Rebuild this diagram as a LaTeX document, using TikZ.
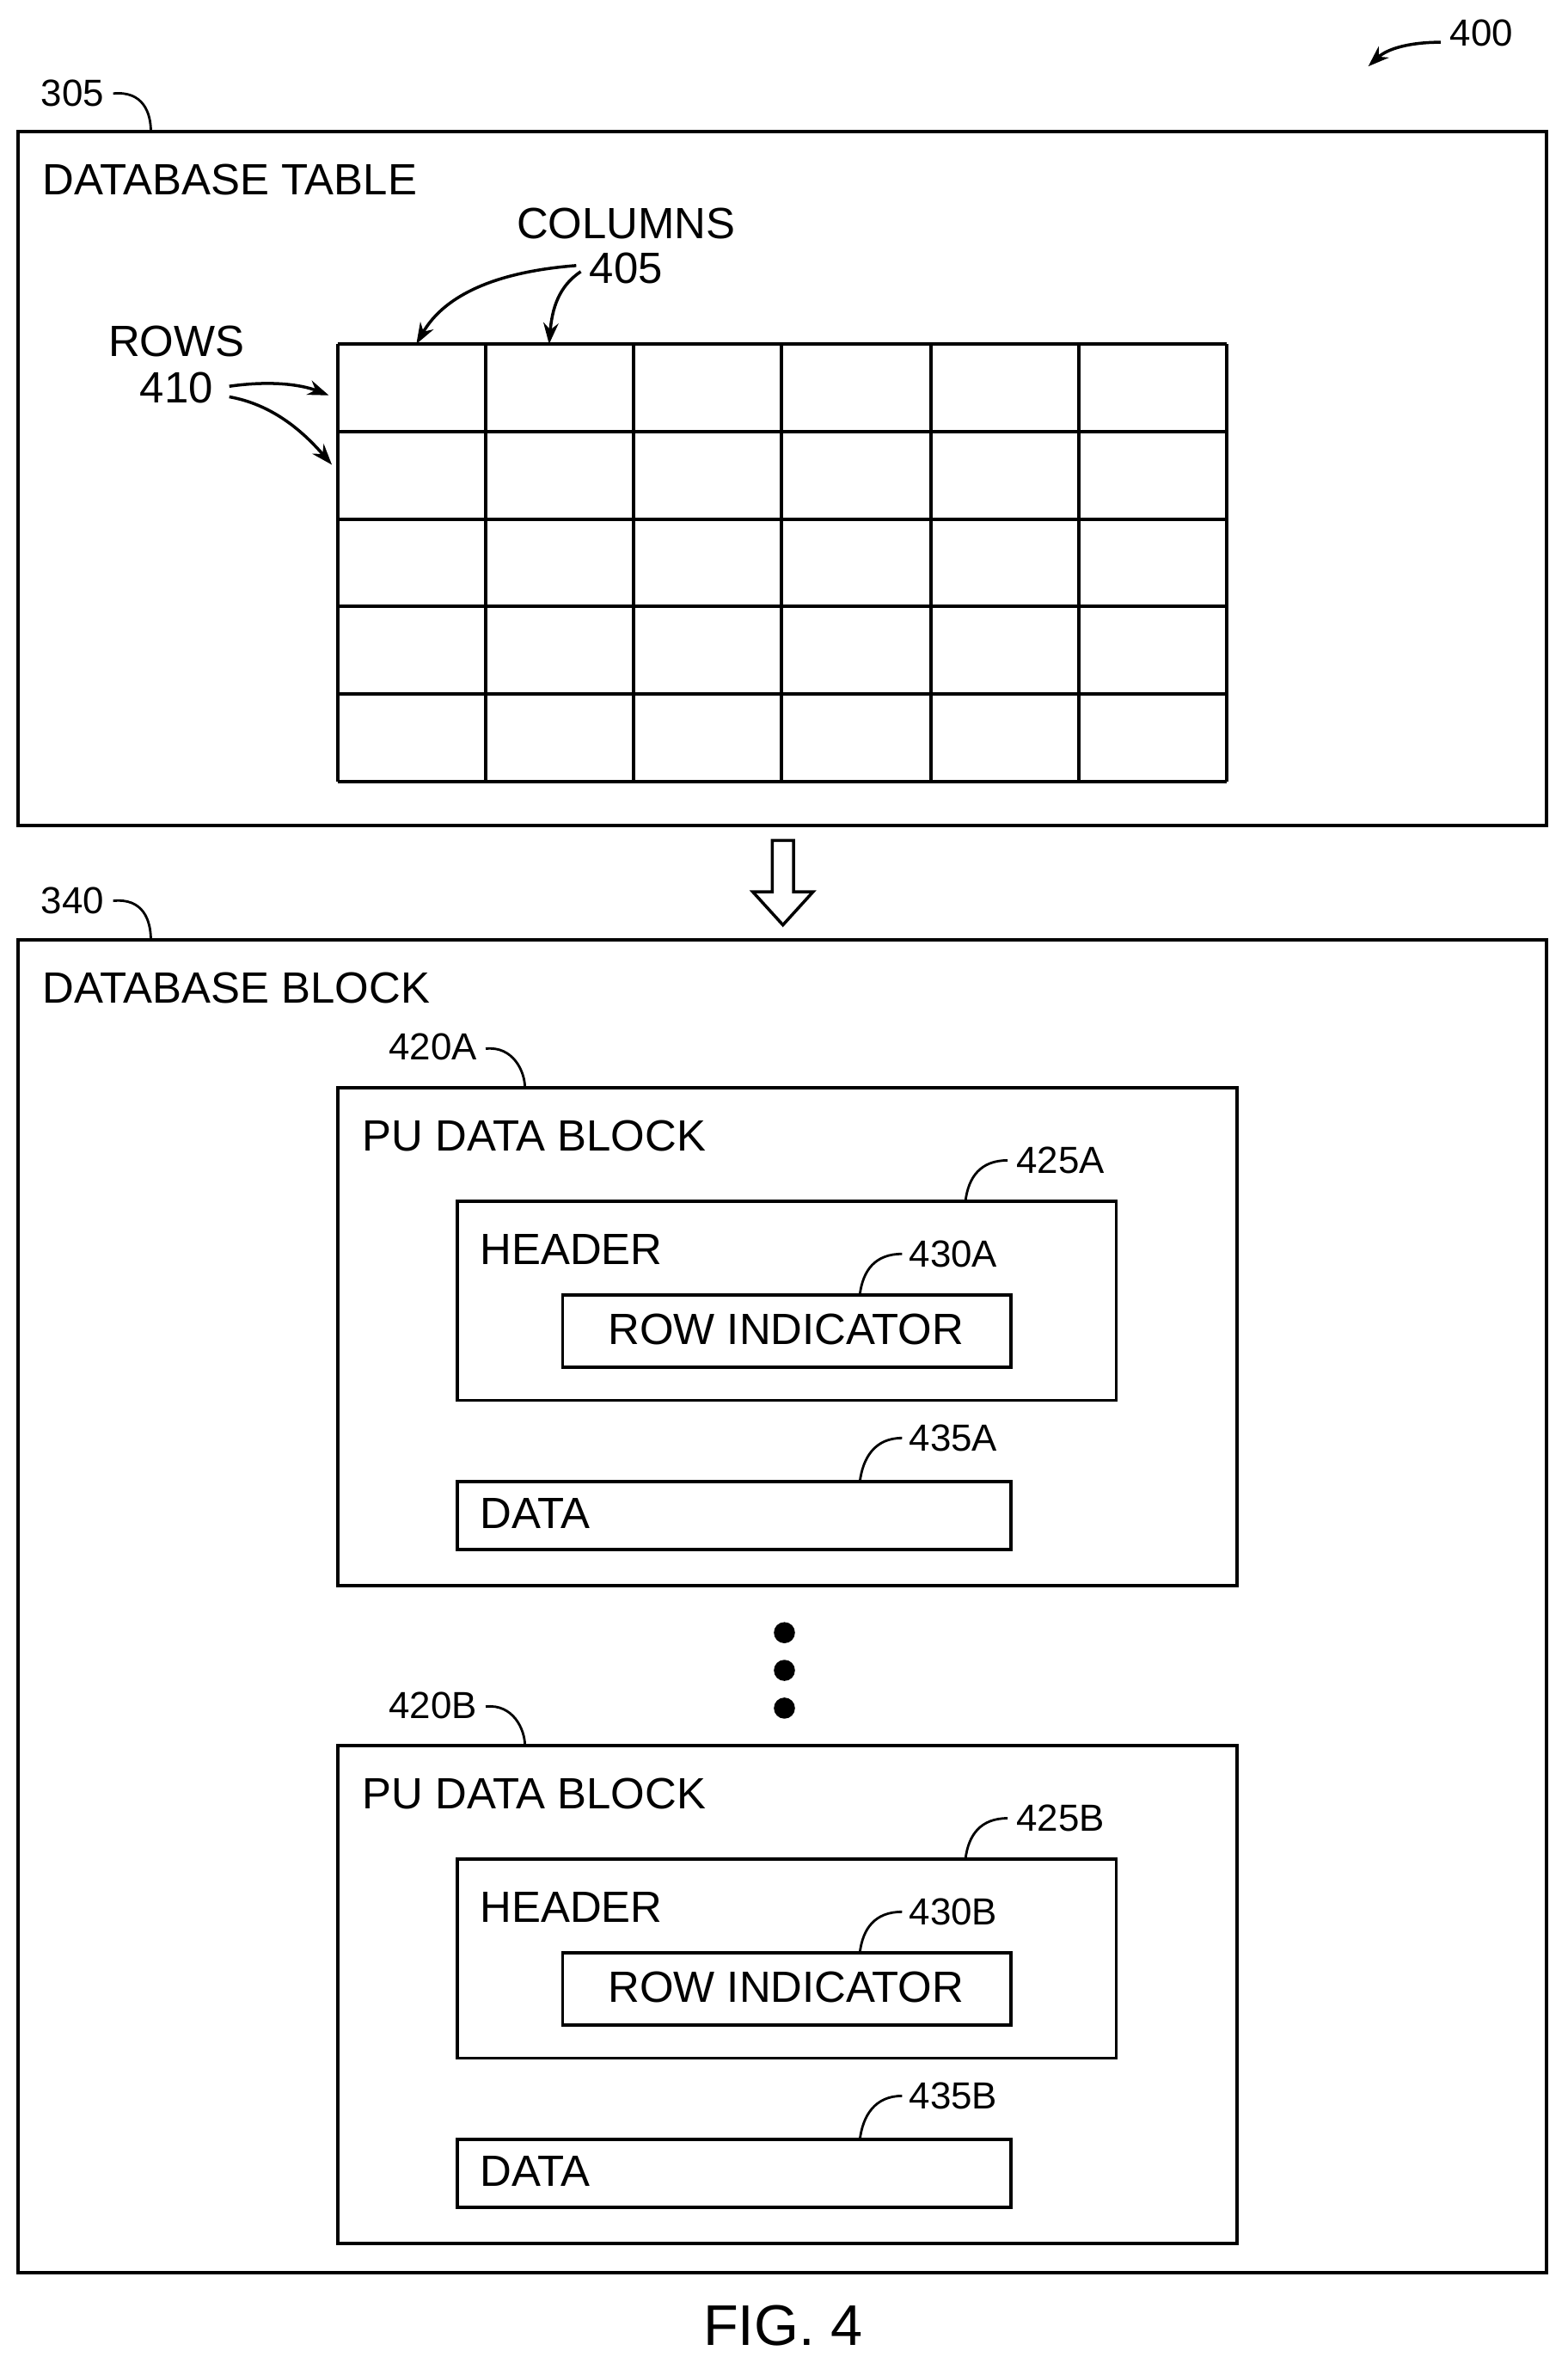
\documentclass[tikz,border=0pt]{standalone}
\usepackage{fontspec}
\setmainfont{Liberation Sans}
\usetikzlibrary{arrows.meta}
\begin{document}
\begin{tikzpicture}[x=1pt,y=-1pt,
  box/.style={draw,line width=2.2pt},
  txt/.style={font=\fontsize{29}{32}\selectfont,inner sep=0,anchor=west},
  lab/.style={font=\fontsize{25}{28}\selectfont,inner sep=0},
  lead/.style={line width=1.6pt},
  arr/.style={line width=2pt,-{Stealth[length=14pt,width=10pt]}}]
\useasboundingbox (0,0) rectangle (1039,1570);
% 400
\node[lab] (l400) at (982,22) {400};
\draw[arr] (955,28) .. controls (935,28) and (920,32) .. (907,44);
% table box
\draw[box] (12,87) rectangle (1025,547);
\node[lab] (l305) at (48,62) {305};
\draw[lead] (75,62) .. controls (95,60) and (100,75) .. (100,87);
\node[txt] (dt) at (28,119) {DATABASE TABLE};
\foreach \x in {224,322,420,518,617,715,813} \draw[line width=2.2pt] (\x,228) -- (\x,518);
\foreach \y in {228,286,344,402,460,518} \draw[line width=2.2pt] (224,\y) -- (813,\y);
\coordinate (c1) at (276,228); \coordinate (c2) at (364,228);
\coordinate (r1) at (218,262); \coordinate (r2) at (220,308);
\node[txt,anchor=center] (cols) at (415,148) {COLUMNS};
\node[txt,anchor=center] (n405) at (415,178) {405};
\draw[arr] (382,176) .. controls (330,180) and (295,195) .. (c1);
\draw[arr] (385,180) .. controls (370,190) and (366,205) .. (c2);
\node[txt,anchor=center] (rows) at (117,226) {ROWS};
\node[txt,anchor=center] (n410) at (117,257) {410};
\draw[arr] (152,256) .. controls (180,252) and (200,255) .. (r1);
\draw[arr] (152,263) .. controls (180,268) and (200,285) .. (r2);
% hollow arrow
\draw[line width=2pt] (512,557) -- (526,557) -- (526,591) -- (539,591) -- (519,613) -- (499,591) -- (512,591) -- cycle;
% block box
\draw[box] (12,623) rectangle (1025,1506);
\node[lab] (l340) at (48,597) {340};
\draw[lead] (75,597) .. controls (95,595) and (100,610) .. (100,623);
\node[txt] (db) at (28,655) {DATABASE BLOCK};
\foreach \o/\s in {0/A,436/B}{
\begin{scope}[yshift=-\o]
\draw[box] (224,721) rectangle (820,1051);
\node[lab] at (287,694) {420\s};
\draw[lead] (322,695) .. controls (340,693) and (348,710) .. (348,721);
\node[txt] at (240,753) {PU DATA BLOCK};
\draw[box] (303,796) rectangle (740,928);
\node[lab] at (703,769) {425\s};
\draw[lead] (668,769) .. controls (650,769) and (642,780) .. (640,796);
\node[txt] at (318,828) {HEADER};
\draw[box] (373,858) rectangle (670,906);
\node[txt,anchor=center] at (521,881) {ROW INDICATOR};
\node[lab] at (632,831) {430\s};
\draw[lead] (598,831) .. controls (580,831) and (572,842) .. (570,858);
\draw[box] (303,982) rectangle (670,1027);
\node[txt] at (318,1003) {DATA};
\node[lab] at (632,953) {435\s};
\draw[lead] (598,953) .. controls (580,953) and (572,966) .. (570,982);
\end{scope}}
\foreach \y in {1082,1107,1132} \fill (520,\y) circle (7);
\node[font=\fontsize{38}{42}\selectfont,inner sep=0] (fig) at (519,1541) {FIG. 4};
\end{tikzpicture}
\end{document}
